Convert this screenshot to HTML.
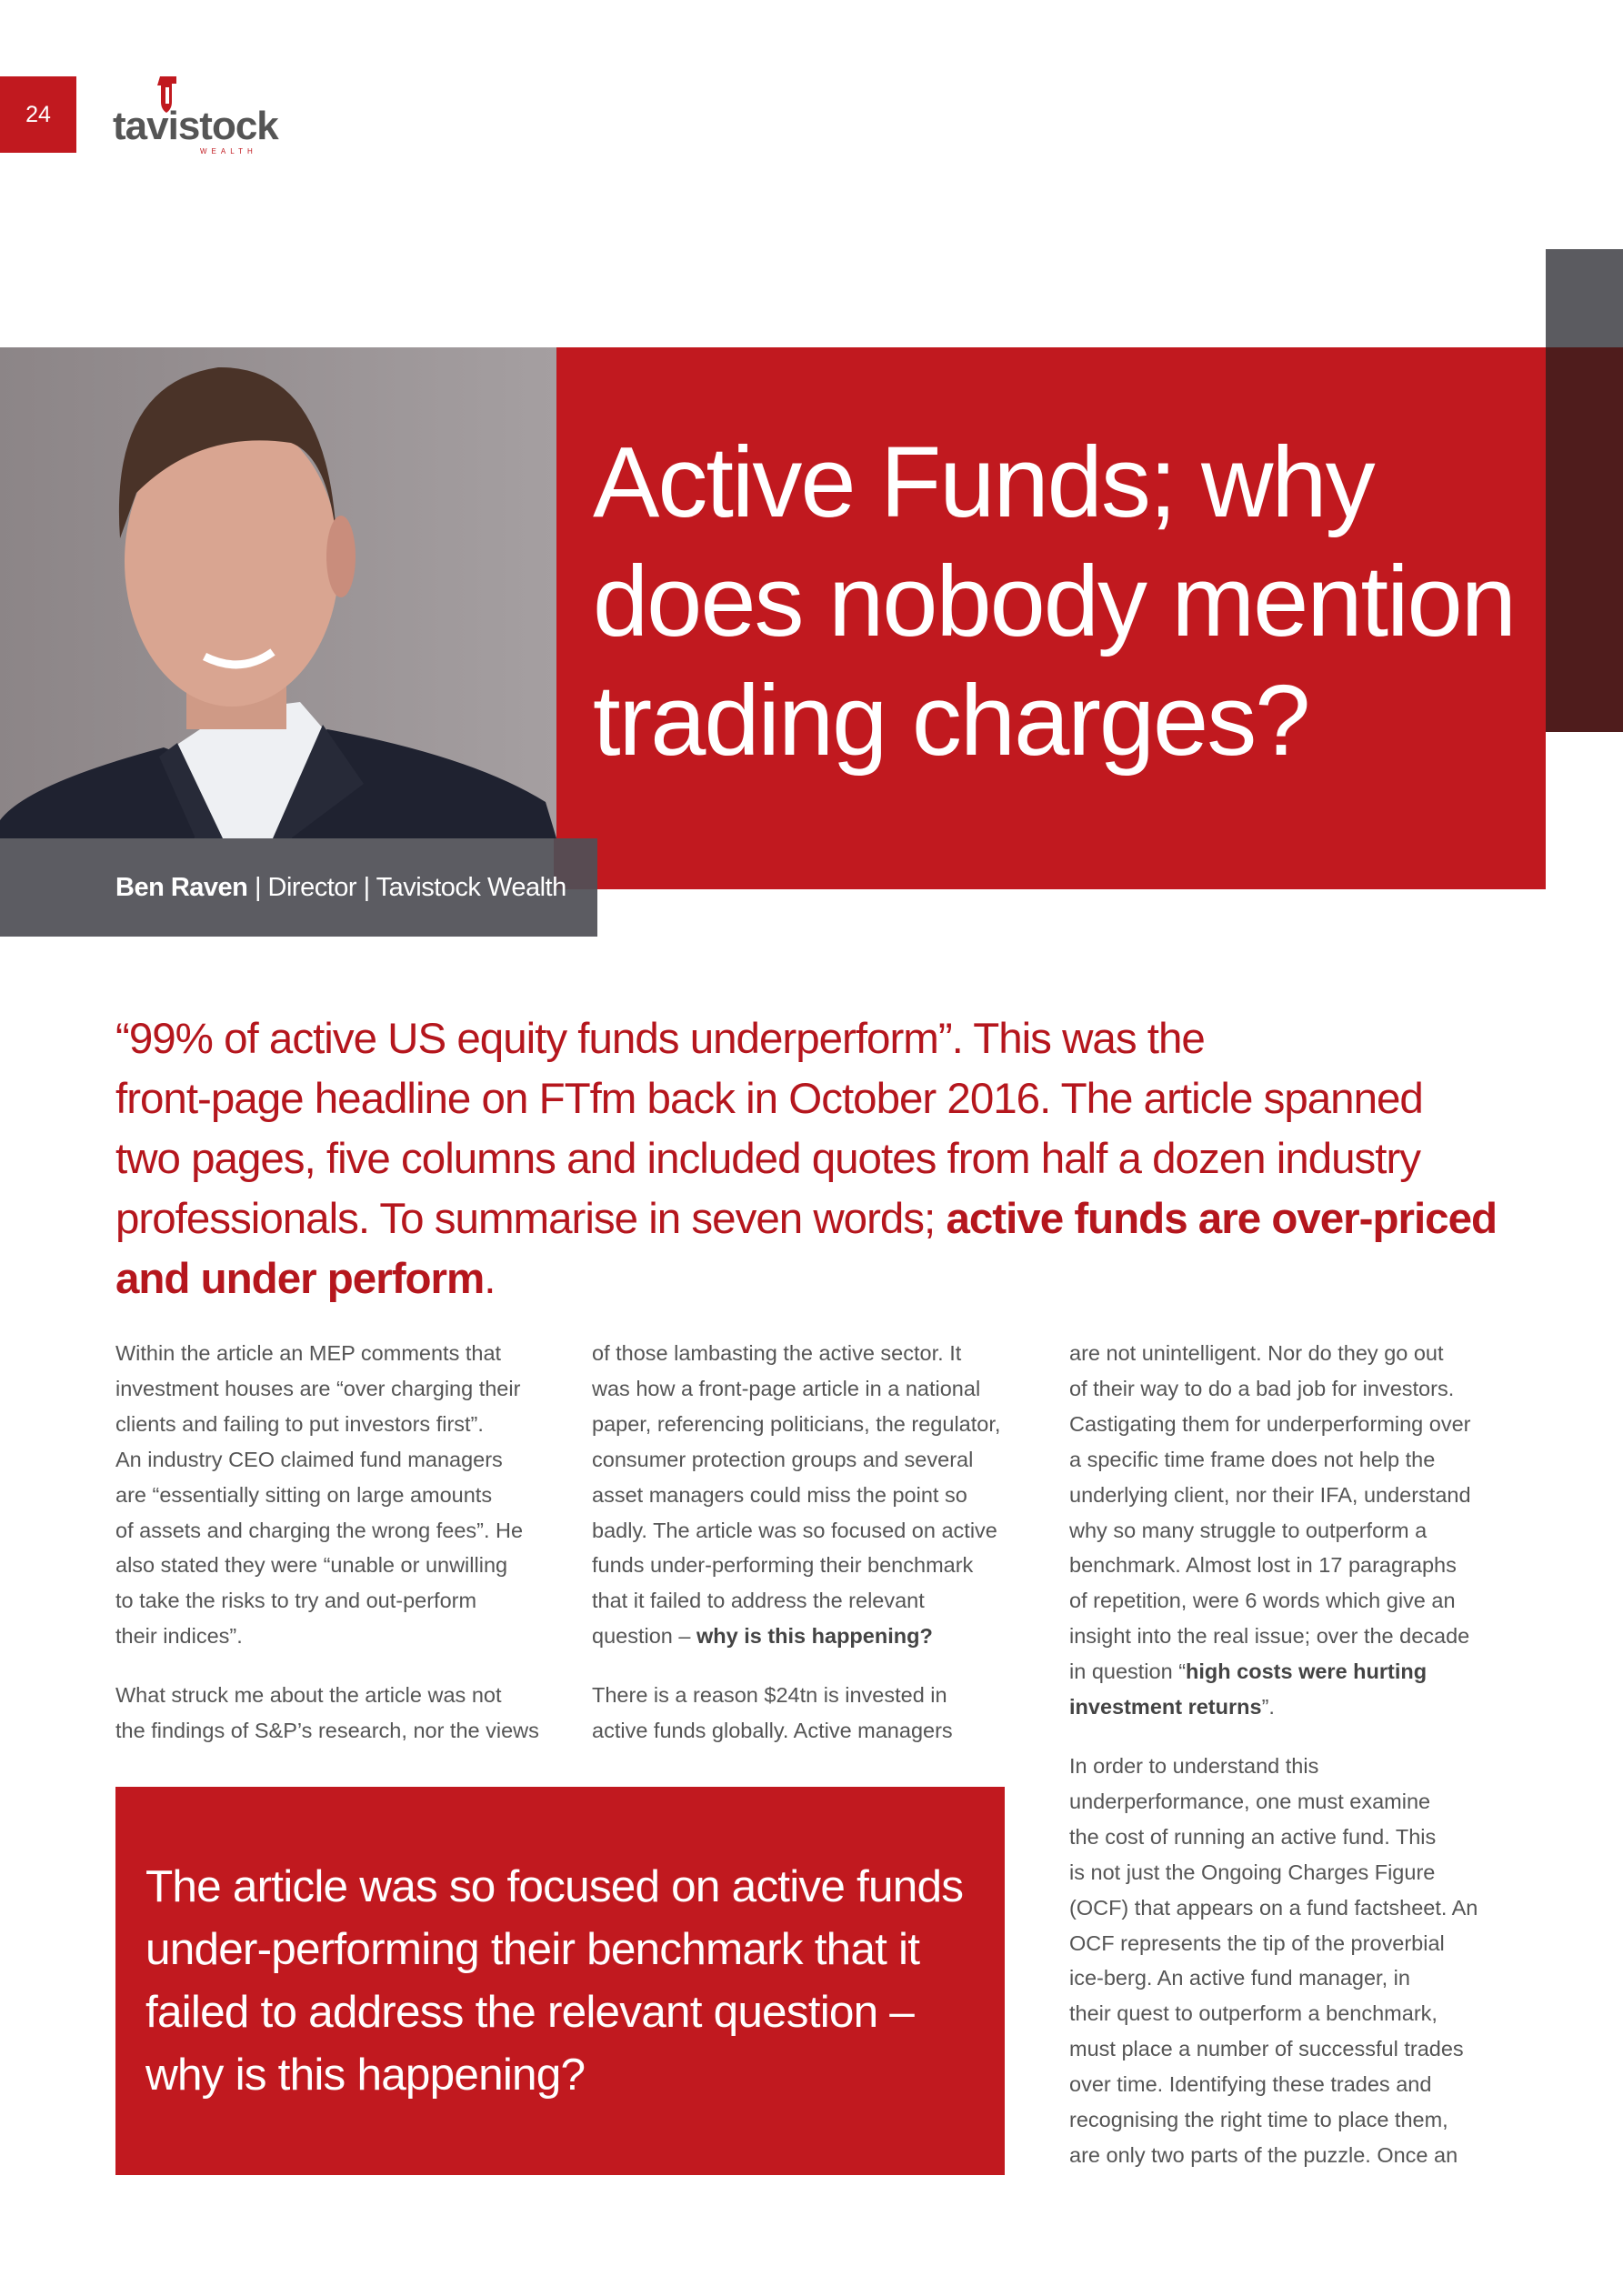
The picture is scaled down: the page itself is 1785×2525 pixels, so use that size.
<!DOCTYPE html>
<html><head><meta charset="utf-8">
<style>
*{margin:0;padding:0;box-sizing:border-box}
body{width:1785px;height:2525px;position:relative;background:#fff;font-family:"Liberation Sans",sans-serif;overflow:hidden}
.abs{position:absolute}
.col{position:absolute;top:1469px;width:520px;font-size:23.5px;line-height:38.9px;color:#555;white-space:nowrap}
.col p{margin-bottom:26px}
.col b{color:#444}
</style></head><body>
<div class="abs" style="left:0;top:84px;width:84px;height:84px;background:#c1191f;color:#fff;font-size:25px;line-height:84px;text-align:center">24</div>
<div class="abs" style="left:124px;top:80px;width:170px;height:95px">
  <svg width="170" height="95"><path d="M52 4 h18 v8 h-5 v20 q0 8 -6 12 q-6 -4 -6 -12 v-18 h-4z" fill="#c1191f"/><rect x="58" y="16" width="4" height="18" fill="#fff"/></svg>
  <div class="abs" style="left:0;top:34px;font-size:44px;font-weight:bold;color:#555;letter-spacing:-1px">tavistock</div>
  <div class="abs" style="left:96px;top:82px;font-size:8px;color:#c1191f;letter-spacing:5px">WEALTH</div>
</div>
<div class="abs" style="left:1700px;top:274px;width:85px;height:108px;background:#5b5b60"></div>
<div class="abs" style="left:1700px;top:382px;width:85px;height:423px;background:#4f1c1c"></div>
<div class="abs" style="left:609px;top:382px;width:1091px;height:596px;background:#c1191f"></div>
<div class="abs" style="left:652px;top:465px;font-size:110px;line-height:131px;color:#fff;letter-spacing:-2px;white-space:nowrap">Active Funds; why<br>does nobody mention<br>trading charges?</div>
<svg class="abs" style="left:0;top:382px" width="612" height="540">
  <defs><linearGradient id="bg" x1="0" x2="1"><stop offset="0" stop-color="#8c8587"/><stop offset="1" stop-color="#a59fa1"/></linearGradient></defs>
  <rect width="612" height="540" fill="url(#bg)"/>
  <path d="M0 520 Q30 480 180 440 L260 470 L360 420 Q520 450 600 500 L612 540 L0 540Z" fill="#1f2230"/>
  <path d="M190 440 L250 400 L330 390 L356 420 L320 540 L215 540Z" fill="#eef0f3"/>
  <path d="M175 450 L215 540 L245 540 L195 435Z" fill="#272a38"/>
  <path d="M355 415 L400 480 L320 540 L300 540Z" fill="#272a38"/>
  <rect x="205" y="330" width="110" height="90" fill="#cf9a86"/>
  <ellipse cx="255" cy="235" rx="118" ry="160" fill="#d9a591"/>
  <path d="M132 210 Q120 40 240 22 Q360 20 370 210 Q360 120 320 105 Q220 90 150 160Z" fill="#4a3328"/>
  <ellipse cx="375" cy="230" rx="16" ry="45" fill="#c98d7c"/>
  <path d="M225 340 Q265 360 300 335" stroke="#fff" stroke-width="9" fill="none"/>
</svg>
<div class="abs" style="left:0;top:922px;width:657px;height:108px;background:rgba(80,80,86,0.93)"></div>
<div class="abs" style="left:127px;top:960px;font-size:29px;color:#fff;white-space:nowrap;letter-spacing:-0.5px"><b>Ben Raven</b> | Director | Tavistock Wealth</div>
<div class="abs" style="left:127px;top:1110px;font-size:47.5px;line-height:66px;color:#b5161d;white-space:nowrap;letter-spacing:-1px">“99% of active US equity funds underperform”. This was the<br>front-page headline on FTfm back in October 2016. The article spanned<br>two pages, five columns and included quotes from half a dozen industry<br>professionals. To summarise in seven words; <b>active funds are over-priced<br>and under perform</b>.</div>
<div class="col" style="left:127px">
<p>Within the article an MEP comments that<br>investment houses are “over charging their<br>clients and failing to put investors first”.<br>An industry CEO claimed fund managers<br>are “essentially sitting on large amounts<br>of assets and charging the wrong fees”. He<br>also stated they were “unable or unwilling<br>to take the risks to try and out-perform<br>their indices”.</p>
<p>What struck me about the article was not<br>the findings of S&amp;P’s research, nor the views</p></div>
<div class="col" style="left:651px">
<p>of those lambasting the active sector. It<br>was how a front-page article in a national<br>paper, referencing politicians, the regulator,<br>consumer protection groups and several<br>asset managers could miss the point so<br>badly. The article was so focused on active<br>funds under-performing their benchmark<br>that it failed to address the relevant<br>question – <b>why is this happening?</b></p>
<p>There is a reason $24tn is invested in<br>active funds globally. Active managers</p></div>
<div class="col" style="left:1176px">
<p>are not unintelligent. Nor do they go out<br>of their way to do a bad job for investors.<br>Castigating them for underperforming over<br>a specific time frame does not help the<br>underlying client, nor their IFA, understand<br>why so many struggle to outperform a<br>benchmark. Almost lost in 17 paragraphs<br>of repetition, were 6 words which give an<br>insight into the real issue; over the decade<br>in question “<b>high costs were hurting<br>investment returns</b>”.</p>
<p>In order to understand this<br>underperformance, one must examine<br>the cost of running an active fund. This<br>is not just the Ongoing Charges Figure<br>(OCF) that appears on a fund factsheet. An<br>OCF represents the tip of the proverbial<br>ice-berg. An active fund manager, in<br>their quest to outperform a benchmark,<br>must place a number of successful trades<br>over time. Identifying these trades and<br>recognising the right time to place them,<br>are only two parts of the puzzle. Once an</p></div>
<div class="abs" style="left:127px;top:1965px;width:978px;height:427px;background:#c1191f"></div>
<div class="abs" style="left:160px;top:2040px;font-size:49.5px;line-height:69px;color:#fff;white-space:nowrap;letter-spacing:-0.8px">The article was so focused on active funds<br>under-performing their benchmark that it<br>failed to address the relevant question –<br>why is this happening?</div>
</body></html>
